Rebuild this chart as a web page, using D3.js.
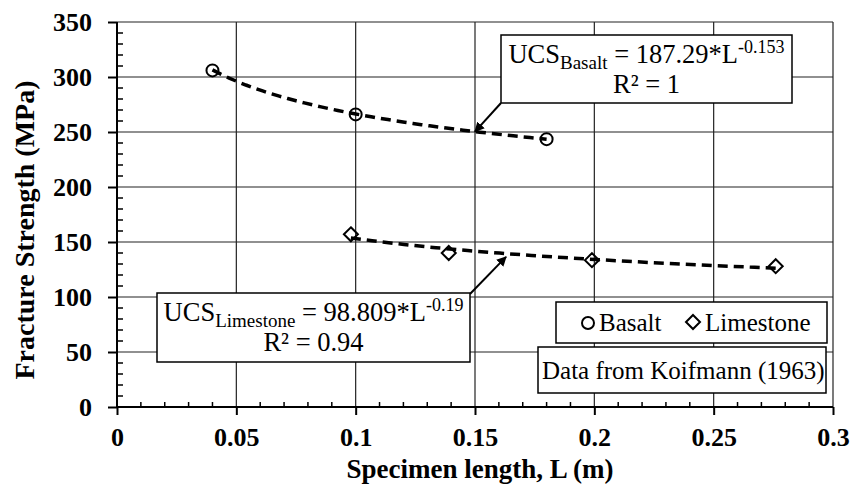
<!DOCTYPE html>
<html>
<head>
<meta charset="utf-8">
<script src="https://cdn.jsdelivr.net/npm/d3@7"></script>
<style>
    body { margin: 0; background: #fff; }
    svg { display: block; font-family: "Liberation Serif", "Times New Roman", serif; }
</style>
</head>
<body>
<div id="chart"></div>
<script>
// data (Koifmann 1963)
let basaltLength = [0.04, 0.1, 0.18];
let basaltStrength = [306, 266, 243.5];
let limeLength = [0.098, 0.139, 0.199, 0.276];
let limeStrength = [157, 140, 133.5, 128];

// power fits shown on the chart: UCS = a * L^b
let basaltFit = [187.29, -0.153];
let limeFit = [98.809, -0.19];

let xTicks = [0, 0.05, 0.1, 0.15, 0.2, 0.25, 0.3];
let xTickLabels = ['0', '0.05', '0.1', '0.15', '0.2', '0.25', '0.3'];
let yTicks = [0, 50, 100, 150, 200, 250, 300, 350];

let width = 862, height = 486;
let plotLeft = 117, plotRight = 833, plotTop = 22, plotBottom = 407;

let svg = d3.select('#chart').append('svg')
    .attr('width', width)
    .attr('height', height);

let defs = svg.append('defs');
defs.append('marker')
    .attr('id', 'arrow')
    .attr('viewBox', '0 0 10 10')
    .attr('refX', 9).attr('refY', 5)
    .attr('markerWidth', 5).attr('markerHeight', 5)
    .attr('markerUnits', 'strokeWidth')
    .attr('orient', 'auto')
    .append('path')
    .attr('d', 'M0,0 L10,5 L0,10 z')
    .attr('fill', '#000');

let x = d3.scaleLinear().domain([0, 0.3]).range([plotLeft, plotRight]);
let y = d3.scaleLinear().domain([0, 350]).range([plotBottom, plotTop]);

// grid
svg.append('g').selectAll('line')
    .data(yTicks.slice(1))
    .join('line')
    .attr('x1', plotLeft).attr('x2', plotRight)
    .attr('y1', d => y(d)).attr('y2', d => y(d))
    .attr('stroke', '#222').attr('stroke-width', 1.2);

svg.append('g').selectAll('line')
    .data(xTicks.slice(1))
    .join('line')
    .attr('x1', d => x(d)).attr('x2', d => x(d))
    .attr('y1', plotTop).attr('y2', plotBottom)
    .attr('stroke', '#222').attr('stroke-width', 1.2);

// y axis: major ticks outside, minor ticks inside
let yAxis = svg.append('g').attr('transform', `translate(${plotLeft},0)`);
yAxis.call(d3.axisLeft(y).tickValues(yTicks).tickSize(9).tickFormat(d3.format('d')));
yAxis.select('.domain').remove();
yAxis.append('line')
    .attr('y1', y(0)).attr('y2', y(350))
    .attr('stroke', '#000').attr('stroke-width', 2);
yAxis.selectAll('.tick line').attr('stroke-width', 2);
yAxis.selectAll('.tick text')
    .attr('x', -25)
    .attr('font-family', 'Liberation Serif')
    .attr('font-size', 26).attr('font-weight', 'bold').attr('fill', '#000');
yAxis.append('g').selectAll('line')
    .data(d3.range(0, 351, 10).filter(d => d % 50 !== 0))
    .join('line')
    .attr('x1', 0).attr('x2', 6)
    .attr('y1', d => y(d)).attr('y2', d => y(d))
    .attr('stroke', '#000').attr('stroke-width', 1.5);

// x axis
let xAxis = svg.append('g').attr('transform', `translate(0,${plotBottom})`);
xAxis.call(d3.axisBottom(x).tickValues(xTicks).tickSize(8).tickFormat((d, i) => xTickLabels[i]));
xAxis.select('.domain').remove();
xAxis.append('line')
    .attr('x1', x(0)).attr('x2', x(0.3))
    .attr('stroke', '#000').attr('stroke-width', 2);
xAxis.selectAll('.tick line').attr('stroke-width', 2);
xAxis.selectAll('.tick text')
    .attr('y', 21)
    .attr('font-family', 'Liberation Serif')
    .attr('font-size', 26).attr('font-weight', 'bold').attr('fill', '#000');
xAxis.append('g').selectAll('line')
    .data(d3.range(0, 31, 1).filter(d => d % 5 !== 0).map(d => d / 100))
    .join('line')
    .attr('x1', d => x(d)).attr('x2', d => x(d))
    .attr('y1', 0).attr('y2', -5)
    .attr('stroke', '#000').attr('stroke-width', 1.5);

// axis titles
svg.append('text')
    .attr('x', (plotLeft + plotRight) / 2 + 5).attr('y', 478)
    .attr('text-anchor', 'middle')
    .attr('font-size', 27).attr('font-weight', 'bold')
    .text('Specimen length, L (m)');

svg.append('text')
    .attr('transform', 'translate(34,230) rotate(-90)')
    .attr('text-anchor', 'middle')
    .attr('font-size', 28).attr('font-weight', 'bold')
    .text('Fracture Strength (MPa)');

// trend lines
let power = (fit, L) => fit[0] * Math.pow(L, fit[1]);
let line = d3.line().x(d => x(d[0])).y(d => y(d[1]));

function trend(lengths, fit)
{
    let lo = d3.min(lengths), hi = d3.max(lengths);
    let pts = d3.range(0, 41).map(i => {
        let L = lo + (hi - lo) * i / 40;
        return [L, power(fit, L)];
    });
    svg.append('path')
        .attr('d', line(pts))
        .attr('fill', 'none')
        .attr('stroke', '#000')
        .attr('stroke-width', 3.5)
        .attr('stroke-dasharray', '10,6');
}
trend(basaltLength, basaltFit);
trend(limeLength, limeFit);

// markers
svg.append('g').selectAll('circle')
    .data(basaltLength)
    .join('circle')
    .attr('cx', d => x(d))
    .attr('cy', (d, i) => y(basaltStrength[i]))
    .attr('r', 6)
    .attr('fill', 'none').attr('stroke', '#000').attr('stroke-width', 2);

let diamond = d3.symbol(d3.symbolDiamond2, 125);
svg.append('g').selectAll('path')
    .data(limeLength)
    .join('path')
    .attr('transform', (d, i) => `translate(${x(d)},${y(limeStrength[i])})`)
    .attr('d', diamond)
    .attr('fill', 'none').attr('stroke', '#000').attr('stroke-width', 2);

// equation callouts
function callout(bx, by, bw, bh, name, coef, expo, r2, tipL, tipV, fromX, fromY)
{
    svg.append('line')
        .attr('x1', fromX).attr('y1', fromY)
        .attr('x2', x(tipL)).attr('y2', y(tipV))
        .attr('stroke', '#000').attr('stroke-width', 2)
        .attr('marker-end', 'url(#arrow)');

    svg.append('rect')
        .attr('x', bx).attr('y', by).attr('width', bw).attr('height', bh)
        .attr('fill', '#fff').attr('stroke', '#000').attr('stroke-width', 1.5);

    let t = svg.append('text')
        .attr('x', bx + bw / 2).attr('y', by + 28)
        .attr('text-anchor', 'middle')
        .attr('font-size', 26.5);
    t.append('tspan').text('UCS');
    t.append('tspan').attr('font-size', 19).attr('dy', 6).text(name);
    t.append('tspan').attr('dy', -6).text(' = ' + coef + '*L');
    t.append('tspan').attr('font-size', 18).attr('dy', -10).text(expo);

    svg.append('text')
        .attr('x', bx + bw / 2).attr('y', by + 58)
        .attr('text-anchor', 'middle')
        .attr('font-size', 26.5)
        .text('R² = ' + r2);
}

callout(501, 35, 291, 68, 'Basalt', '187.29', '-0.153', '1',
    0.15, power(basaltFit, 0.15), 501, 103);
callout(157, 293, 313, 69, 'Limestone', '98.809', '-0.19', '0.94',
    0.163, power(limeFit, 0.163) - 3, 470, 294);

// legend
svg.append('rect')
    .attr('x', 556).attr('y', 302).attr('width', 271).attr('height', 41)
    .attr('fill', '#fff').attr('stroke', '#000').attr('stroke-width', 1.5);
svg.append('circle')
    .attr('cx', 588).attr('cy', 323).attr('r', 6)
    .attr('fill', 'none').attr('stroke', '#000').attr('stroke-width', 2);
svg.append('text').attr('x', 599).attr('y', 331).attr('font-size', 25).text('Basalt');
svg.append('path')
    .attr('transform', 'translate(693,322)')
    .attr('d', diamond)
    .attr('fill', 'none').attr('stroke', '#000').attr('stroke-width', 2);
svg.append('text').attr('x', 705).attr('y', 331).attr('font-size', 25).text('Limestone');

svg.append('rect')
    .attr('x', 538).attr('y', 347).attr('width', 288).attr('height', 46)
    .attr('fill', '#fff').attr('stroke', '#000').attr('stroke-width', 1.5);
svg.append('text').attr('x', 542).attr('y', 379).attr('font-size', 25).text('Data from Koifmann (1963)');
</script>
</body>
</html>
